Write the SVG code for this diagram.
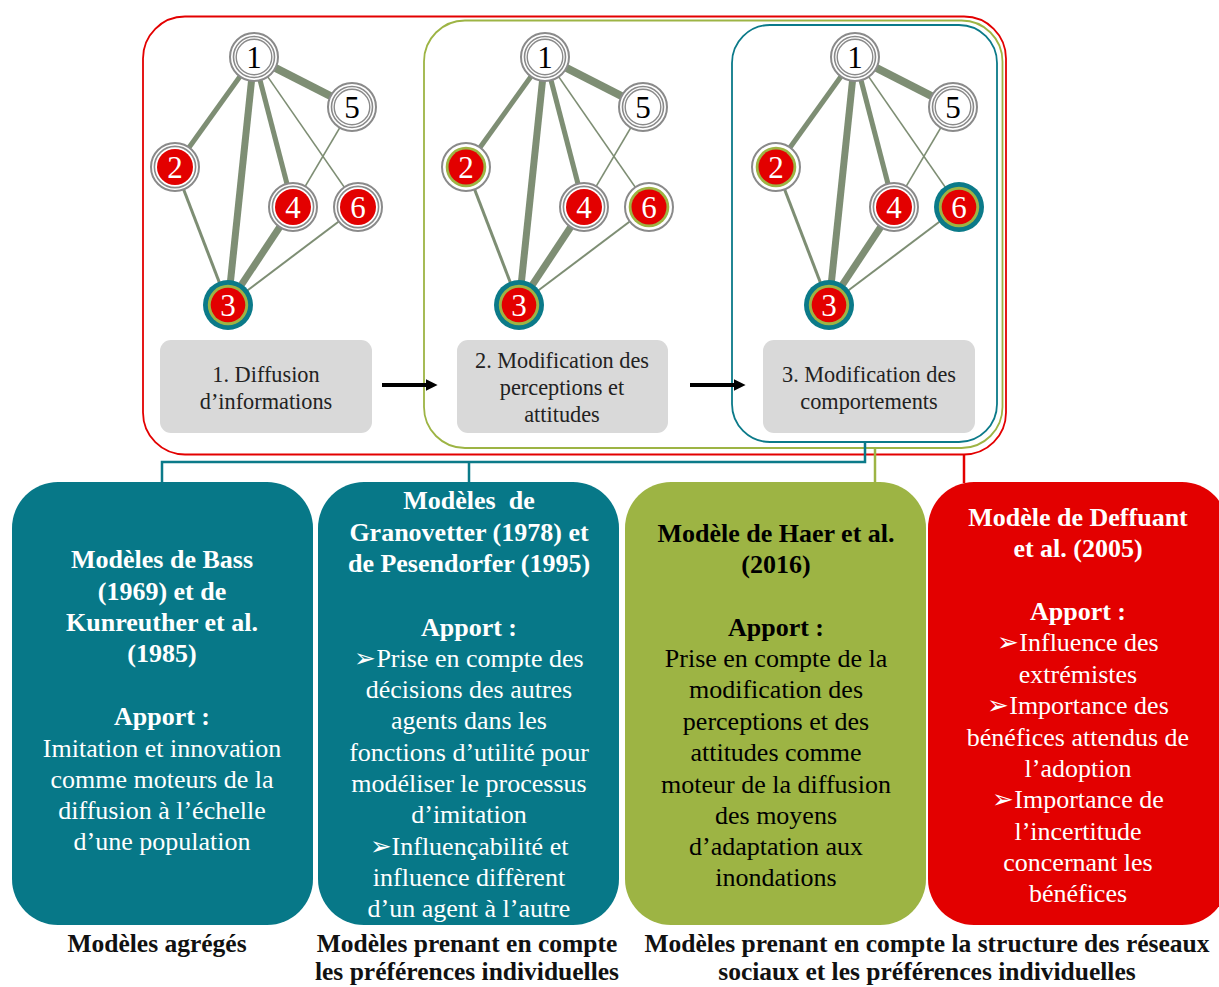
<svg xmlns="http://www.w3.org/2000/svg" xmlns:xlink="http://www.w3.org/1999/xlink" width="1219" height="987" viewBox="0 0 1219 987">
<style>
.num{font-family:"Liberation Serif","Times New Roman",serif;font-size:31px;text-anchor:middle}
.step{font-family:"Liberation Serif","Times New Roman",serif;font-size:22.3px;text-anchor:middle;fill:#222}
.bt{font-family:"Liberation Serif","Times New Roman",serif;font-size:26px;text-anchor:middle}
.b{font-weight:bold}
.lbl{font-family:"Liberation Serif","Times New Roman",serif;font-size:25.5px;font-weight:bold;text-anchor:middle;fill:#111}
.edge{stroke:#7e8e74;fill:none}
.conn{fill:none;stroke-width:2.5}
</style>
<defs>
<g id="plain">
<circle r="24" fill="#fff" stroke="#8a8a8a" stroke-width="2"/>
<circle r="20.5" fill="none" stroke="#8a8a8a" stroke-width="1.6"/>
<circle r="17.8" fill="none" stroke="#8a8a8a" stroke-width="1.4"/>
</g>
<g id="redn">
<circle r="24" fill="#fff" stroke="#8a8a8a" stroke-width="2"/>
<circle r="20.6" fill="none" stroke="#8a8a8a" stroke-width="1.6"/>
<circle r="18" fill="#e30000"/>
</g>
<g id="greenn">
<circle r="24" fill="#fff" stroke="#8a8a8a" stroke-width="2"/>
<circle r="20.3" fill="#9db444"/>
<circle r="17.5" fill="#e30000"/>
</g>
<g id="tealn">
<circle r="25" fill="#0b7a89"/>
<circle r="20.2" fill="#9db444"/>
<circle r="17.3" fill="#e30000"/>
</g>
<g id="graphEdges">
<line x1="254" y1="57" x2="352" y2="107" class="edge" stroke-width="8"/>
<line x1="254" y1="57" x2="175" y2="167" class="edge" stroke-width="5"/>
<line x1="254" y1="57" x2="228" y2="305" class="edge" stroke-width="7"/>
<line x1="254" y1="57" x2="293" y2="207" class="edge" stroke-width="5"/>
<line x1="254" y1="57" x2="358" y2="207" class="edge" stroke-width="1.5"/>
<line x1="352" y1="107" x2="293" y2="207" class="edge" stroke-width="1.5"/>
<line x1="175" y1="167" x2="228" y2="305" class="edge" stroke-width="3"/>
<line x1="293" y1="207" x2="228" y2="305" class="edge" stroke-width="7"/>
<line x1="358" y1="207" x2="228" y2="305" class="edge" stroke-width="2"/>
</g>
<marker id="arr" viewBox="0 0 10 10" refX="2" refY="5" markerWidth="3" markerHeight="3.2" orient="auto" markerUnits="strokeWidth">
<path d="M0,0 L10,5 L0,10 z" fill="#000"/>
</marker>
</defs>

<!-- frames -->
<g id="frames">
<rect x="143" y="16.5" width="863" height="438" rx="42" fill="none" stroke="#e30000" stroke-width="1.8"/>
<rect x="424" y="20.5" width="578.5" height="427.5" rx="41" fill="none" stroke="#9db444" stroke-width="1.8"/>
<rect x="732" y="25" width="265" height="417" rx="38" fill="none" stroke="#0b7a89" stroke-width="1.8"/>
</g>

<!-- connectors -->
<g id="connectors">
<path class="conn" stroke="#0b7a89" d="M865,442 V462 H162 V483 M469,462 V483"/>
<path class="conn" stroke="#9db444" d="M875,448 V483"/>
<path class="conn" stroke="#e30000" d="M964,455 V483"/>
<line x1="382" y1="385" x2="428" y2="385" stroke="#000" stroke-width="4" marker-end="url(#arr)"/>
<line x1="690" y1="385" x2="736" y2="385" stroke="#000" stroke-width="4" marker-end="url(#arr)"/>
</g>

<!-- graph 1 -->
<g id="graph1">
<use xlink:href="#graphEdges"/>
<g id="g1n1"><use xlink:href="#plain" x="254" y="57"/><text class="num" x="254" y="67.5" fill="#000">1</text></g>
<g id="g1n5"><use xlink:href="#plain" x="352" y="107"/><text class="num" x="352" y="117.5" fill="#000">5</text></g>
<g id="g1n2"><use xlink:href="#redn" x="175" y="167"/><text class="num" x="175" y="177.5" fill="#fff">2</text></g>
<g id="g1n4"><use xlink:href="#redn" x="293" y="207"/><text class="num" x="293" y="217.5" fill="#fff">4</text></g>
<g id="g1n6"><use xlink:href="#redn" x="358" y="207"/><text class="num" x="358" y="217.5" fill="#fff">6</text></g>
<g id="g1n3"><use xlink:href="#tealn" x="228" y="305"/><text class="num" x="228" y="315.5" fill="#fff">3</text></g>
</g>

<!-- graph 2 -->
<g id="graph2" transform="translate(291,0)">
<use xlink:href="#graphEdges"/>
<g id="g2n1"><use xlink:href="#plain" x="254" y="57"/><text class="num" x="254" y="67.5" fill="#000">1</text></g>
<g id="g2n5"><use xlink:href="#plain" x="352" y="107"/><text class="num" x="352" y="117.5" fill="#000">5</text></g>
<g id="g2n2"><use xlink:href="#greenn" x="175" y="167"/><text class="num" x="175" y="177.5" fill="#fff">2</text></g>
<g id="g2n4"><use xlink:href="#redn" x="293" y="207"/><text class="num" x="293" y="217.5" fill="#fff">4</text></g>
<g id="g2n6"><use xlink:href="#greenn" x="358" y="207"/><text class="num" x="358" y="217.5" fill="#fff">6</text></g>
<g id="g2n3"><use xlink:href="#tealn" x="228" y="305"/><text class="num" x="228" y="315.5" fill="#fff">3</text></g>
</g>

<!-- graph 3 -->
<g id="graph3" transform="translate(601,0)">
<use xlink:href="#graphEdges"/>
<g id="g3n1"><use xlink:href="#plain" x="254" y="57"/><text class="num" x="254" y="67.5" fill="#000">1</text></g>
<g id="g3n5"><use xlink:href="#plain" x="352" y="107"/><text class="num" x="352" y="117.5" fill="#000">5</text></g>
<g id="g3n2"><use xlink:href="#greenn" x="175" y="167"/><text class="num" x="175" y="177.5" fill="#fff">2</text></g>
<g id="g3n4"><use xlink:href="#redn" x="293" y="207"/><text class="num" x="293" y="217.5" fill="#fff">4</text></g>
<g id="g3n6"><use xlink:href="#tealn" x="358" y="207"/><text class="num" x="358" y="217.5" fill="#fff">6</text></g>
<g id="g3n3"><use xlink:href="#tealn" x="228" y="305"/><text class="num" x="228" y="315.5" fill="#fff">3</text></g>
</g>

<!-- step boxes -->
<g id="step1">
<rect x="160" y="340" width="212" height="93" rx="11" fill="#d9d9d9"/>
<text class="step" x="266" y="382">1. Diffusion</text>
<text class="step" x="266" y="409">d’informations</text>
</g>
<g id="step2">
<rect x="457" y="340" width="211" height="93" rx="11" fill="#d9d9d9"/>
<text class="step" x="562" y="368">2. Modification des</text>
<text class="step" x="562" y="395">perceptions et</text>
<text class="step" x="562" y="422">attitudes</text>
</g>
<g id="step3">
<rect x="763" y="340" width="212" height="93" rx="11" fill="#d9d9d9"/>
<text class="step" x="869" y="382">3. Modification des</text>
<text class="step" x="869" y="409">comportements</text>
</g>

<!-- model boxes -->
<g id="boxA">
<rect x="12" y="482" width="301" height="443" rx="46" fill="#077888"/>
<g class="bt" fill="#fff">
<text class="b" x="162" y="568">Modèles de Bass</text>
<text class="b" x="162" y="600">(1969) et de</text>
<text class="b" x="162" y="631">Kunreuther et al.</text>
<text class="b" x="162" y="662">(1985)</text>
<text class="b" x="162" y="725">Apport :</text>
<text x="162" y="757">Imitation et innovation</text>
<text x="162" y="788">comme moteurs de la</text>
<text x="162" y="819">diffusion à l’échelle</text>
<text x="162" y="850">d’une population</text>
</g>
</g>
<g id="boxB">
<rect x="318" y="482" width="301" height="443" rx="46" fill="#077888"/>
<g class="bt" fill="#fff">
<text class="b" x="469" y="509" xml:space="preserve">Modèles  de</text>
<text class="b" x="469" y="541">Granovetter (1978) et</text>
<text class="b" x="469" y="572">de Pesendorfer (1995)</text>
<text class="b" x="469" y="636">Apport :</text>
<text x="469" y="667">➢Prise en compte des</text>
<text x="469" y="698">décisions des autres</text>
<text x="469" y="729">agents dans les</text>
<text x="469" y="761">fonctions d’utilité pour</text>
<text x="469" y="792">modéliser le processus</text>
<text x="469" y="823">d’imitation</text>
<text x="469" y="855">➢Influençabilité et</text>
<text x="469" y="886">influence diffèrent</text>
<text x="469" y="917">d’un agent à l’autre</text>
</g>
</g>
<g id="boxC">
<rect x="625" y="482" width="301" height="443" rx="46" fill="#9db444"/>
<g class="bt" fill="#000">
<text class="b" x="776" y="542">Modèle de Haer et al.</text>
<text class="b" x="776" y="573">(2016)</text>
<text class="b" x="776" y="636">Apport :</text>
<text x="776" y="667">Prise en compte de la</text>
<text x="776" y="698">modification des</text>
<text x="776" y="730">perceptions et des</text>
<text x="776" y="761">attitudes comme</text>
<text x="776" y="793">moteur de la diffusion</text>
<text x="776" y="824">des moyens</text>
<text x="776" y="855">d’adaptation aux</text>
<text x="776" y="886">inondations</text>
</g>
</g>
<g id="boxD">
<rect x="928" y="482" width="300" height="443" rx="46" fill="#e30000"/>
<g class="bt" fill="#fff">
<text class="b" x="1078" y="526">Modèle de Deffuant</text>
<text class="b" x="1078" y="557">et al. (2005)</text>
<text class="b" x="1078" y="620">Apport :</text>
<text x="1078" y="651">➢Influence des</text>
<text x="1078" y="683">extrémistes</text>
<text x="1078" y="714">➢Importance des</text>
<text x="1078" y="746">bénéfices attendus de</text>
<text x="1078" y="777">l’adoption</text>
<text x="1078" y="808">➢Importance de</text>
<text x="1078" y="840">l’incertitude</text>
<text x="1078" y="871">concernant les</text>
<text x="1078" y="902">bénéfices</text>
</g>
</g>

<!-- category labels -->
<g id="labels">
<text class="lbl" x="157" y="952">Modèles agrégés</text>
<text class="lbl" x="467" y="952">Modèles prenant en compte</text>
<text class="lbl" x="467" y="980">les préférences individuelles</text>
<text class="lbl" x="927" y="952">Modèles prenant en compte la structure des réseaux</text>
<text class="lbl" x="927" y="980">sociaux et les préférences individuelles</text>
</g>
</svg>
